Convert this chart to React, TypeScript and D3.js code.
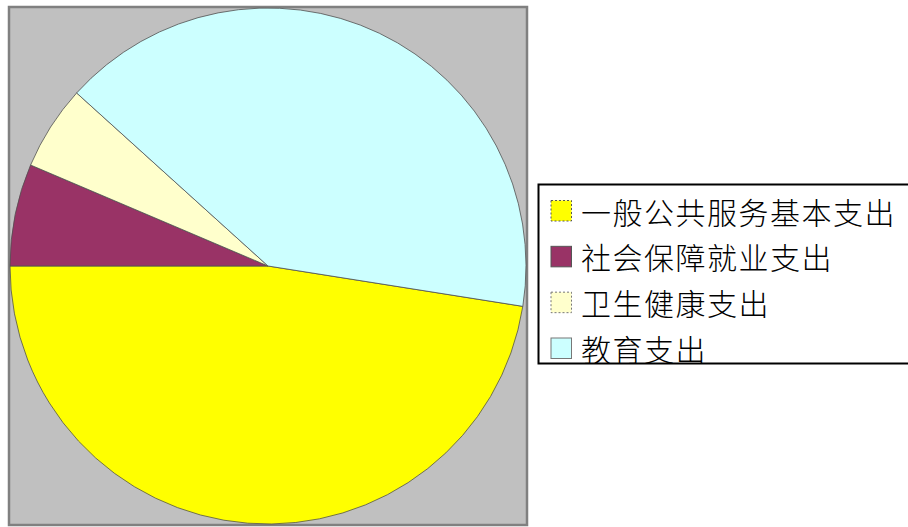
import React from "react";
import * as d3 from "d3";

const categories = ["一般公共服务基本支出", "社会保障就业支出", "卫生健康支出", "教育支出"];
const values = [47.5, 6.4, 5.3, 40.8];
const colors = ["#FFFF00", "#993366", "#FFFFCC", "#CCFFFF"];
const swatchStrokes = ["#555555", "#555555", "#777777", "#777777"];
const swatchDash = ["2,2", "", "2,2", ""];

export default function App() {
  const W = 908;
  const H = 527;
  const plot = { x: 9, y: 7, w: 518, h: 518 };
  const cx = 268;
  const cy = 266;
  const r = 258;

  const total = d3.sum(values);
  // first slice ends at 9 o'clock (270deg clockwise from 12)
  const start = (3 * Math.PI) / 2 - (values[0] / total) * 2 * Math.PI;
  const pie = d3
    .pie<number>()
    .sort(null)
    .value((d) => d)
    .startAngle(start)
    .endAngle(start + 2 * Math.PI);
  const arcs = pie(values);
  const arc = d3.arc<d3.PieArcDatum<number>>().innerRadius(0).outerRadius(r);

  const legend = { x: 538.5, y: 184.5, w: 380, h: 179 };
  const rowY = d3.scaleLinear().domain([0, 3]).range([210.5, 348]);

  return (
    <svg width={W} height={H} style={{ position: "absolute", left: 0, top: 0 }}>
      <rect x={0} y={0} width={W} height={H} fill="#ffffff" />
      <rect
        x={plot.x}
        y={plot.y}
        width={plot.w}
        height={plot.h}
        fill="#C0C0C0"
        stroke="#808080"
        strokeWidth={2.5}
      />
      <g transform={`translate(${cx},${cy})`}>
        {arcs.map((a, i) => (
          <path
            key={i}
            d={arc(a) || ""}
            fill={colors[i]}
            stroke="#505050"
            strokeWidth={0.8}
          />
        ))}
      </g>
      <rect
        x={legend.x}
        y={legend.y}
        width={legend.w}
        height={legend.h}
        fill="#ffffff"
        stroke="#000000"
        strokeWidth={2}
      />
      {categories.map((c, i) => (
        <g key={c}>
          <rect
            x={551}
            y={rowY(i) - 10}
            width={20.5}
            height={20.5}
            fill={colors[i]}
            stroke={swatchStrokes[i]}
            strokeWidth={1}
            strokeDasharray={swatchDash[i] || undefined}
          />
          <text
            x={581}
            y={rowY(i)}
            dominantBaseline="central"
            fontFamily='"Noto Sans CJK SC", sans-serif'
            fontSize={30}
            fontWeight={300}
            letterSpacing={1.5}
            fill="#000000"
          >
            {c}
          </text>
        </g>
      ))}
    </svg>
  );
}
